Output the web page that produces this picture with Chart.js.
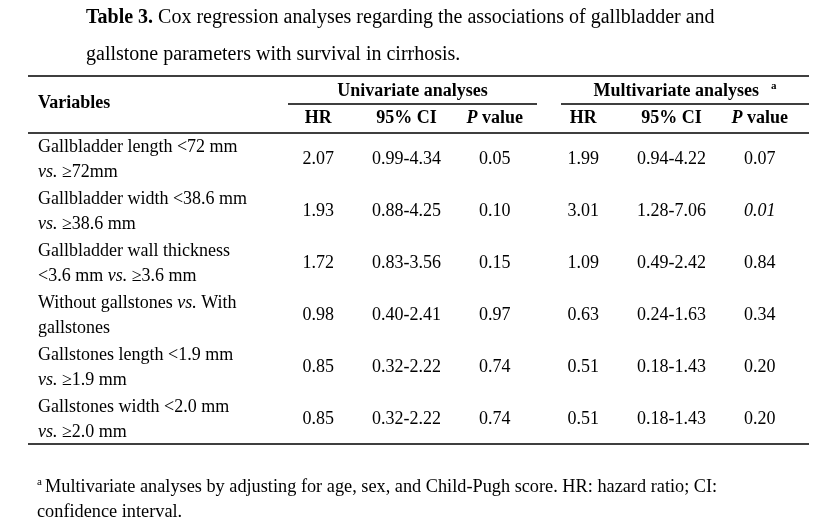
<!DOCTYPE html>
<html><head><meta charset="utf-8">
<script src="https://cdn.jsdelivr.net/npm/chart.js@4.4.1/dist/chart.umd.min.js"></script>
<style>html,body{margin:0;padding:0;background:#fff}</style>
</head><body>
<canvas id="c" width="826" height="527"></canvas>
<script>
// ---- data ----
const titleBold = "Table 3.";
const titleLine1 = " Cox regression analyses regarding the associations of gallbladder and";
const titleLine2 = "gallstone parameters with survival in cirrhosis.";
const stubHeader = "Variables";
const groupHeaders = ["Univariate analyses", "Multivariate analyses"];
const columnHeaders = ["HR", "95% CI", "_P_ value", "HR", "95% CI", "_P_ value"];
const variables = [
  ["Gallbladder length <72 mm", "_vs._ \u226572mm"],
  ["Gallbladder width <38.6 mm", "_vs._ \u226538.6 mm"],
  ["Gallbladder wall thickness", "<3.6 mm _vs._ \u22653.6 mm"],
  ["Without gallstones _vs._ With", "gallstones"],
  ["Gallstones length <1.9 mm", "_vs._ \u22651.9 mm"],
  ["Gallstones width <2.0 mm", "_vs._ \u22652.0 mm"]
];
const uniHR = [2.07, 1.93, 1.72, 0.98, 0.85, 0.85];
const uniCILow = [0.99, 0.88, 0.83, 0.40, 0.32, 0.32];
const uniCIHigh = [4.34, 4.25, 3.56, 2.41, 2.22, 2.22];
const uniP = [0.05, 0.10, 0.15, 0.97, 0.74, 0.74];
const multiHR = [1.99, 3.01, 1.09, 0.63, 0.51, 0.51];
const multiCILow = [0.94, 1.28, 0.49, 0.24, 0.18, 0.18];
const multiCIHigh = [4.22, 7.06, 2.42, 1.63, 1.43, 1.43];
const multiP = [0.07, 0.01, 0.84, 0.34, 0.20, 0.20];
const footnoteMark = "a";
const footnoteLine1 = "Multivariate analyses by adjusting for age, sex, and Child-Pugh score. HR: hazard ratio; CI:";
const footnoteLine2 = "confidence interval.";

// ---- style ----
const FAM = '"Liberation Serif","Times New Roman",serif';
const FS = 18, TFS = 20, NFS = 18.3;
const S = {
  titleX: 86, title1Y: 22.5, title2Y: 60,
  ruleL: 28, ruleR: 809, topRuleY: 76,
  stubX: 38, stubY: 108,
  groupY: 96, underlineY: 104, underlines: [[288, 537], [561, 809]],
  colHeadY: 123,
  lineUp: -6.5, lineDown: 18.5, valueDy: 5.5,
  footX: 45, footMarkX: 37, foot1Y: 492, foot2Y: 517
};

function font(style, weight, size) { return `${style} ${weight} ${size}px ${FAM}`; }
function segs(text) {
  const parts = text.split('_'); return parts.map((t, i) => ({ t, it: i % 2 === 1 })).filter(p => p.t.length);
}
function drawRich(ctx, text, x, y, align, weight, size) {
  const ps = segs(text);
  let w = 0;
  ps.forEach(p => { ctx.font = font(p.it ? 'italic' : 'normal', weight, size); p.w = ctx.measureText(p.t).width; w += p.w; });
  let cx = align === 'center' ? x - w / 2 : (align === 'right' ? x - w : x);
  ctx.textAlign = 'left'; ctx.textBaseline = 'alphabetic';
  ps.forEach(p => { ctx.font = font(p.it ? 'italic' : 'normal', weight, size); ctx.fillText(p.t, cx, y); cx += p.w; });
  return w;
}
function hline(ctx, x1, x2, y) { ctx.fillRect(x1, y - 0.75, x2 - x1, 1.5); }

const f2 = v => v.toFixed(2);
const columns = [
  { rows: uniHR.map((v, r) => ({ x: 0, y: r, label: f2(v) })) },
  { rows: uniCILow.map((v, r) => ({ x: 1, y: r, label: f2(v) + '-' + f2(uniCIHigh[r]) })) },
  { rows: uniP.map((v, r) => ({ x: 2, y: r, label: v < 0.05 ? '_' + f2(v) + '_' : f2(v) })) },
  { rows: multiHR.map((v, r) => ({ x: 3, y: r, label: f2(v) })) },
  { rows: multiCILow.map((v, r) => ({ x: 4, y: r, label: f2(v) + '-' + f2(multiCIHigh[r]) })) },
  { rows: multiP.map((v, r) => ({ x: 5, y: r, label: v < 0.05 ? '_' + f2(v) + '_' : f2(v) })) }
];

const tablePlugin = {
  id: 'tableText',
  afterDraw(chart) {
    const ctx = chart.ctx, xs = chart.scales.x, ys = chart.scales.y, area = chart.chartArea;
    ctx.save();
    ctx.fillStyle = '#000';
    // title
    const wb = drawRich(ctx, titleBold, S.titleX, S.title1Y, 'left', 'bold', TFS);
    drawRich(ctx, titleLine1, S.titleX + wb, S.title1Y, 'left', 'normal', TFS);
    drawRich(ctx, titleLine2, S.titleX, S.title2Y, 'left', 'normal', TFS);
    // rules
    hline(ctx, S.ruleL, S.ruleR, S.topRuleY);
    hline(ctx, S.ruleL, S.ruleR, area.top);
    hline(ctx, S.ruleL, S.ruleR, area.bottom);
    // headers
    drawRich(ctx, stubHeader, S.stubX, S.stubY, 'left', 'bold', FS);
    S.underlines.forEach((u, g) => {
      hline(ctx, u[0], u[1], S.underlineY);
      const cx = (u[0] + u[1]) / 2;
      if (g === 1) {
        ctx.font = font('normal', 'bold', FS);
        const mw = ctx.measureText(groupHeaders[g]).width;
        ctx.font = font('normal', 'bold', 11);
        const aw = ctx.measureText(footnoteMark).width;
        const gap = 12;
        const tot = mw + gap + aw;
        drawRich(ctx, groupHeaders[g], cx - tot / 2, S.groupY, 'left', 'bold', FS);
        drawRich(ctx, footnoteMark, cx - tot / 2 + mw + gap, S.groupY - 7, 'left', 'bold', 11);
      } else {
        drawRich(ctx, groupHeaders[g], cx, S.groupY, 'center', 'bold', FS);
      }
    });
    columnHeaders.forEach((h, i) => drawRich(ctx, h, xs.getPixelForValue(i), S.colHeadY, 'center', 'bold', FS));
    // stub labels
    variables.forEach((lines, r) => {
      const y = ys.getPixelForValue(r);
      drawRich(ctx, lines[0], S.stubX, y + S.lineUp, 'left', 'normal', FS);
      drawRich(ctx, lines[1], S.stubX, y + S.lineDown, 'left', 'normal', FS);
    });
    // cell values at the element positions
    chart.data.datasets.forEach((ds, i) => {
      const meta = chart.getDatasetMeta(i);
      meta.data.forEach((el, j) => drawRich(ctx, ds.data[j].label, el.x, el.y + S.valueDy, 'center', 'normal', FS));
    });
    // footnote
    drawRich(ctx, footnoteMark, S.footMarkX, S.foot1Y - 7, 'left', 'normal', 11);
    drawRich(ctx, footnoteLine1, S.footX, S.foot1Y, 'left', 'normal', NFS);
    drawRich(ctx, footnoteLine2, S.footMarkX, S.foot2Y, 'left', 'normal', NFS);
    ctx.restore();
  }
};

new Chart(document.getElementById('c'), {
  type: 'scatter',
  data: { datasets: columns.map((c, i) => ({ label: columnHeaders[i], data: c.rows, pointRadius: 0, pointHoverRadius: 0 })) },
  options: {
    responsive: false, animation: false, events: [],
    layout: { padding: { left: 274, right: 22, top: 133, bottom: 83 } },
    plugins: { legend: { display: false }, tooltip: { enabled: false } },
    scales: {
      x: { type: 'linear', min: -0.5, max: 5.5, display: false },
      y: { type: 'linear', min: -0.5, max: 5.5, reverse: true, display: false }
    }
  },
  plugins: [tablePlugin]
});
</script>
</body></html>
